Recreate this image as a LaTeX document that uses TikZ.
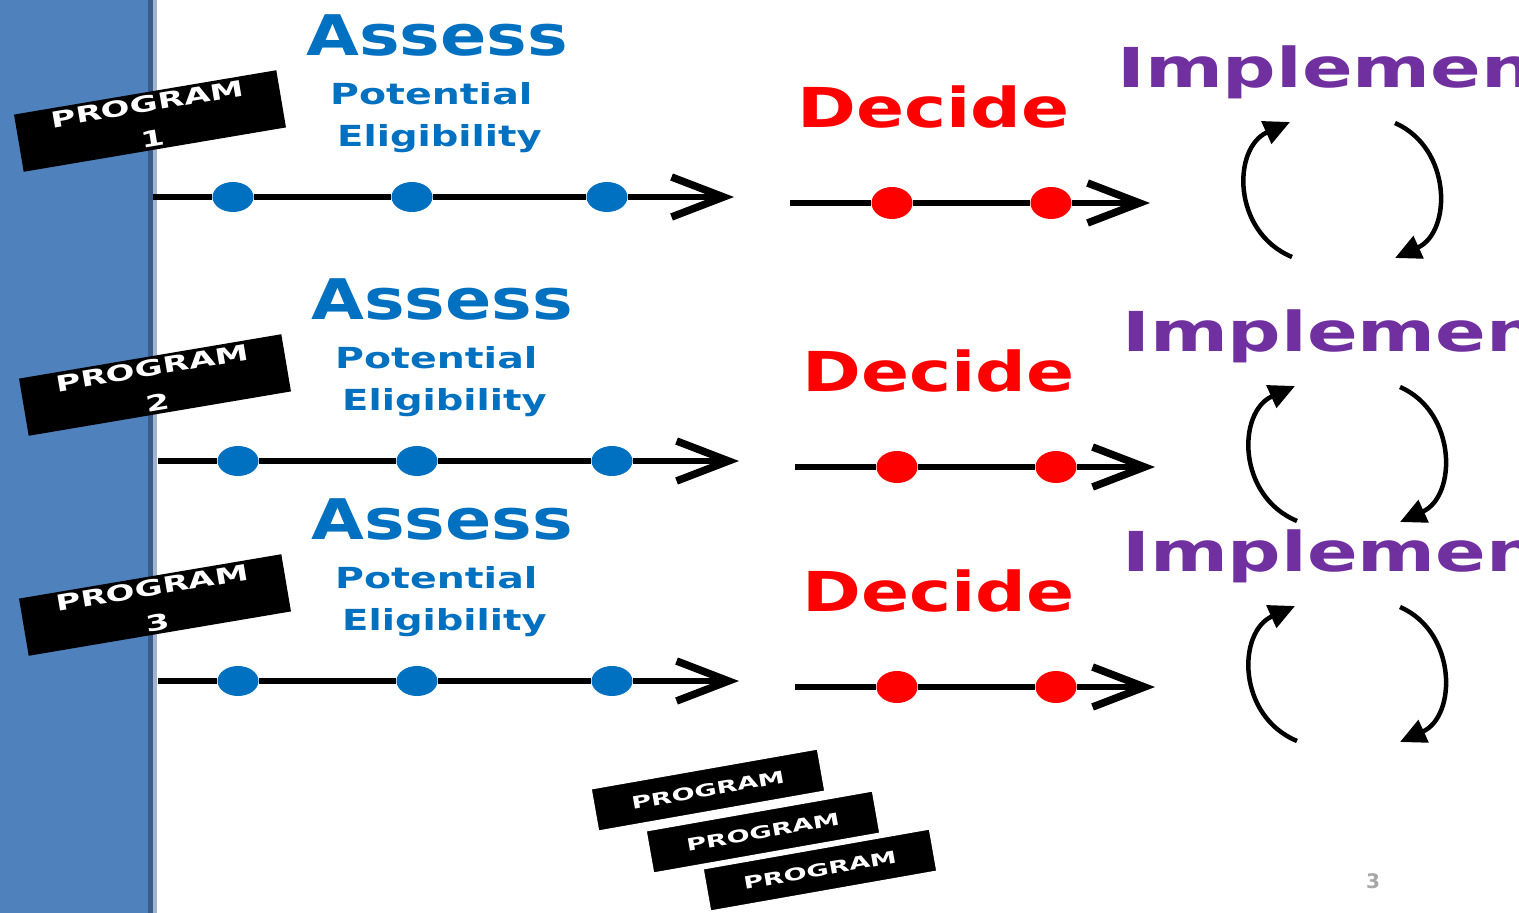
\documentclass[tikz,border=0pt]{standalone}
\usepackage{fontspec}
\setmainfont{DejaVu Sans}
\usetikzlibrary{arrows.meta,shapes.geometric}
\definecolor{barblue}{HTML}{4F81BD}
\definecolor{bardark}{HTML}{385D8A}
\definecolor{barlight}{HTML}{A3B4CF}
\definecolor{assessblue}{HTML}{0070C0}
\definecolor{decidered}{HTML}{FF0000}
\definecolor{implpurple}{HTML}{7030A0}
\newcommand{\widetext}[2]{\scalebox{#1}[1]{#2}}
\newcommand{\fsz}[1]{\fontsize{#1}{#1}\selectfont\bfseries}
\begin{document}
\begin{tikzpicture}[x=1pt,y=-1pt,line join=round,
  flow/.style={line width=6pt,-{Straight Barb[length=52pt,width=40pt,line width=7.5pt]}},
  bluedot/.style={ellipse,fill=assessblue,minimum width=41pt,minimum height=30pt,inner sep=0pt},
  reddot/.style={ellipse,fill=decidered,minimum width=41pt,minimum height=32pt,inner sep=0pt},
  turn/.style={line width=4.5pt,-{Triangle[length=26pt,width=24pt]}},
  tag/.style={fill=black,text=white,inner sep=0pt,align=center,font=\fontsize{22}{35}\selectfont\bfseries},
  word/.style={anchor=base west,inner sep=0pt}]
\useasboundingbox (0,0) rectangle (1519,913);
\clip (0,0) rectangle (1519,913);
\fill[white] (0,0) rectangle (1519,913);
% side bar
\fill[barblue] (0,0) rectangle (148,913);
\fill[bardark] (148,0) rectangle (153,913);
\fill[barlight] (153,0) rectangle (157,913);
\foreach \r/\dx/\dy in {1/0/0,2/5/264,3/5/484}{
  \begin{scope}[shift={(\dx,\dy)}]
    \node[tag,rotate=9.6,minimum width=266pt,minimum height=58pt] (prog\r) at (150,121)
      {\widetext{1.55}{PROGRAM}\\\widetext{1.55}{\r}};
    \node[word,text=assessblue] (assess\r) at (306,55) {\fsz{56}\widetext{1.22}{Assess}};
    \node[word,text=assessblue] (pot\r) at (330,104) {\fsz{29}\widetext{1.36}{Potential}};
    \node[word,text=assessblue] (elig\r) at (337,146) {\fsz{29}\widetext{1.33}{Eligibility}};
    \node[word,text=decidered] (decide\r) at (797,127) {\fsz{55}\widetext{1.29}{Decide}};
    \node[word,text=implpurple] (impl\r) at (1117,87) {\fsz{55}\widetext{1.36}{Implement}};
    % assess line
    \coordinate (bs\r) at (153,197);
    \coordinate (be\r) at (734,197);
    \foreach \x [count=\i] in {233,412,607} \node[bluedot] (bd\r\i) at (\x,197) {};
    \draw[flow] (bs\r) -- (bd\r1) -- (bd\r2) -- (bd\r3) -- (be\r);
    % decide line
    \coordinate (rs\r) at (790,203);
    \coordinate (re\r) at (1150,203);
    \foreach \x [count=\i] in {892,1051} \node[reddot] (rd\r\i) at (\x,203) {};
    \draw[flow] (rs\r) -- (rd\r1) -- (rd\r2) -- (re\r);
    % implement cycle
    \coordinate (cl\r) at (1292,257);
    \coordinate (ct\r) at (1290,122);
    \coordinate (cr\r) at (1395,123);
    \coordinate (cb\r) at (1395,258);
    \draw[turn] (cl\r) .. controls (1232,232) and (1232,148) .. (ct\r);
    \draw[turn] (cr\r) .. controls (1452,148) and (1452,232) .. (cb\r);
  \end{scope}
}
% stacked tags
\node[tag,rotate=10,minimum width=230pt,minimum height=43pt,draw=white,line width=1.5pt,font=\fsz{17}] (stackA) at (708,790) {\widetext{1.6}{PROGRAM}};
\node[tag,rotate=10,minimum width=230pt,minimum height=43pt,draw=white,line width=1.5pt,font=\fsz{17}] (stackB) at (763,832) {\widetext{1.6}{PROGRAM}};
\node[tag,rotate=10,minimum width=230pt,minimum height=43pt,draw=white,line width=1.5pt,font=\fsz{17}] (stackC) at (820,870) {\widetext{1.6}{PROGRAM}};
\node[anchor=base,inner sep=0pt,text=black!35] (pagenum) at (1373,888) {\fontsize{20}{20}\selectfont\bfseries 3};
\end{tikzpicture}
\end{document}
